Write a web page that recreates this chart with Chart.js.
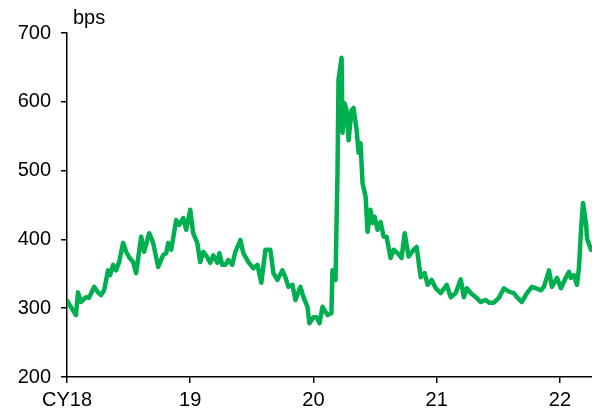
<!DOCTYPE html>
<html>
<head>
<meta charset="utf-8">
<script src="https://cdn.jsdelivr.net/npm/chart.js@4/dist/chart.umd.min.js"></script>
<style>
  html, body { margin: 0; padding: 0; background: #fff; }
  #wrap { width: 592px; height: 416px; position: relative; }
</style>
</head>
<body>
<div id="wrap"><canvas id="chart"></canvas></div>
<script>
'use strict';

// time axis in calendar years (18 = start of CY18)
const years = [
  18.000, 18.073, 18.089, 18.114, 18.154, 18.179, 18.220, 18.252, 18.276, 18.301,
  18.333, 18.350, 18.374, 18.398, 18.423, 18.455, 18.480, 18.504, 18.537, 18.561,
  18.602, 18.626, 18.667, 18.699, 18.740, 18.780, 18.805, 18.821, 18.846, 18.886,
  18.911, 18.943, 18.967, 19.000, 19.024, 19.057, 19.081, 19.106, 19.138, 19.163,
  19.187, 19.220, 19.236, 19.260, 19.285, 19.309, 19.341, 19.366, 19.407, 19.431,
  19.472, 19.512, 19.545, 19.577, 19.610, 19.650, 19.675, 19.707, 19.748, 19.772,
  19.797, 19.829, 19.854, 19.894, 19.919, 19.951, 19.967, 20.000, 20.024, 20.049,
  20.073, 20.114, 20.146, 20.154, 20.179, 20.187, 20.195, 20.203, 20.228, 20.236,
  20.252, 20.268, 20.285, 20.309, 20.325, 20.350, 20.366, 20.382, 20.398, 20.423,
  20.439, 20.463, 20.480, 20.496, 20.520, 20.545, 20.569, 20.593, 20.626, 20.650,
  20.683, 20.715, 20.740, 20.772, 20.813, 20.837, 20.870, 20.902, 20.927, 20.959,
  20.992, 21.033, 21.081, 21.114, 21.154, 21.195, 21.220, 21.244, 21.276, 21.317,
  21.358, 21.398, 21.423, 21.463, 21.504, 21.545, 21.585, 21.626, 21.650, 21.691,
  21.732, 21.772, 21.805, 21.846, 21.870, 21.911, 21.935, 21.976, 22.008, 22.049,
  22.073, 22.089, 22.114, 22.138, 22.154, 22.171, 22.187, 22.211, 22.220, 22.252
];

// spread, bps
const spread = [
  311, 290, 323, 309, 316, 315, 331, 323, 319, 326,
  355, 348, 363, 355, 367, 395, 382, 374, 367, 351,
  404, 382, 409, 395, 360, 377, 380, 395, 385, 428,
  421, 431, 414, 443, 409, 395, 367, 382, 374, 366,
  377, 366, 380, 363, 363, 370, 363, 382, 399, 380,
  367, 358, 363, 337, 385, 385, 351, 341, 355, 345,
  331, 334, 312, 331, 316, 302, 278, 287, 287, 278,
  302, 290, 293, 355, 341, 424, 497, 632, 664, 555,
  598, 588, 544, 588, 591, 559, 526, 540, 482, 462,
  411, 443, 424, 433, 414, 425, 404, 404, 373, 385,
  380, 373, 409, 375, 385, 389, 345, 351, 334, 341,
  329, 322, 334, 316, 322, 342, 316, 329, 322, 316,
  309, 312, 308, 308, 315, 329, 324, 322, 316, 309,
  322, 331, 329, 326, 331, 355, 331, 344, 329, 345,
  353, 344, 348, 334, 358, 414, 453, 424, 401, 385
];

const xTicks = [18, 19, 20, 21, 22];
const yTicks = [200, 300, 400, 500, 600, 700];

const points = years.map((x, i) => ({ x: x, y: spread[i] }));

const unitLabel = {
  id: 'unitLabel',
  afterDraw(chart) {
    const ctx = chart.ctx;
    const area = chart.chartArea;
    ctx.save();
    ctx.font = '20px "Liberation Sans", Arial, sans-serif';
    ctx.fillStyle = '#000';
    ctx.textBaseline = 'alphabetic';
    ctx.fillText('bps', area.left + 6, area.top - 9);
    ctx.restore();
  }
};

const font = { family: '"Liberation Sans", Arial, sans-serif', size: 20 };

new Chart(document.getElementById('chart'), {
  type: 'line',
  data: {
    datasets: [{
      data: points,
      borderColor: '#00b050',
      borderWidth: 4.5,
      pointRadius: 0,
      tension: 0,
      borderJoinStyle: 'round',
      borderCapStyle: 'round'
    }]
  },
  options: {
    responsive: true,
    maintainAspectRatio: false,
    animation: false,
    layout: { padding: { top: 33, right: 0, left: 0, bottom: 0 } },
    plugins: { legend: { display: false }, tooltip: { enabled: false } },
    scales: {
      x: {
        type: 'linear',
        min: 18,
        max: 22.26,
        afterBuildTicks: (axis) => { axis.ticks = xTicks.map(v => ({ value: v })); },
        afterFit: (axis) => { axis.height = 39; },
        ticks: {
          color: '#000',
          font: font,
          padding: 5,
          maxRotation: 0,
          autoSkip: false,
          callback: (v) => v === 18 ? 'CY18' : String(v)
        },
        grid: { drawOnChartArea: false, drawTicks: true, tickLength: 6, color: '#000', lineWidth: 1.5 },
        border: { display: true, color: '#000', width: 1.5 }
      },
      y: {
        min: 200,
        max: 700,
        afterBuildTicks: (axis) => { axis.ticks = yTicks.map(v => ({ value: v })); },
        afterFit: (axis) => { axis.width = 67; },
        ticks: { color: '#000', font: font, padding: 10 },
        grid: { drawOnChartArea: false, drawTicks: true, tickLength: 6, color: '#000', lineWidth: 1.5 },
        border: { display: true, color: '#000', width: 1.5 }
      }
    }
  },
  plugins: [unitLabel]
});
</script>
</body>
</html>
